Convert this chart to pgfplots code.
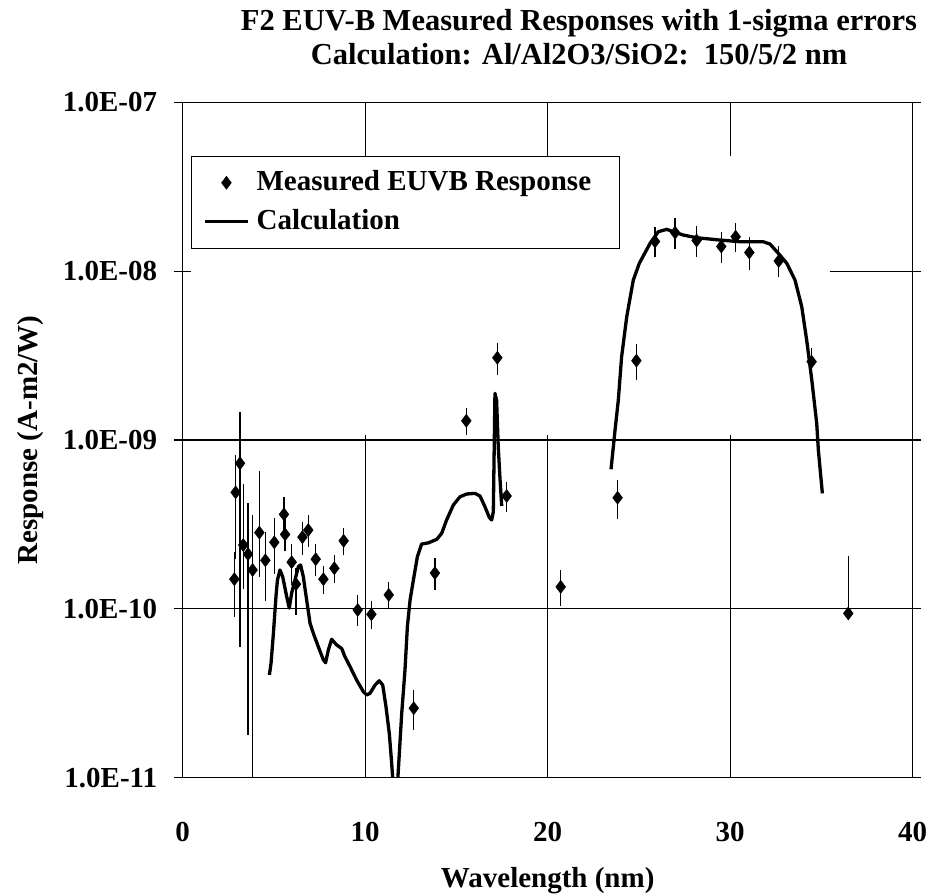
\documentclass[border=0pt]{standalone}
\usepackage{pgfplots}
\pgfplotsset{compat=1.18}
\usepackage{pgfplotstable}
\usepackage{fontspec}
\setmainfont{Liberation Serif}

\newcommand\chartfont{\fontsize{29}{34}\selectfont\bfseries}
\newcommand\titlefont{\fontsize{30.5}{36}\selectfont\bfseries}

% measured responses: wavelength (nm), response (A m^2/W), +/- 1 sigma
\pgfplotstableread{
x     y         ep        em
2.83  1.50e-10  0.55e-10  0.55e-10
2.90  4.90e-10  2.82e-10  2.82e-10
3.14  7.28e-10  6.65e-10  6.65e-10
3.32  2.39e-10  2.78e-10  1.00e-10
3.58  2.11e-10  1.92e-10  1.92e-10
3.83  1.70e-10  1.69e-10  1.62e-10
4.20  2.83e-10  3.37e-10  1.20e-10
4.53  1.94e-10  0.76e-10  0.76e-10
5.02  2.48e-10  0.78e-10  0.78e-10
5.55  3.63e-10  0.74e-10  0.74e-10
5.61  2.76e-10  0.45e-10  0.45e-10
5.97  1.89e-10  0.39e-10  0.39e-10
6.21  1.40e-10  0.26e-10  0.43e-10
6.56  2.66e-10  0.45e-10  0.45e-10
6.88  2.93e-10  0.46e-10  0.46e-10
7.29  1.97e-10  0.31e-10  0.31e-10
7.71  1.50e-10  0.20e-10  0.20e-10
8.31  1.74e-10  0.24e-10  0.24e-10
8.82  2.53e-10  0.33e-10  0.33e-10
9.59  0.985e-10 0.153e-10 0.153e-10
10.34 0.928e-10 0.126e-10 0.126e-10
11.29 1.21e-10  0.16e-10  0.16e-10
12.66 2.58e-11  0.55e-11  0.55e-11
13.82 1.63e-10  0.26e-10  0.26e-10
15.54 1.30e-9   0.17e-9   0.17e-9
17.24 3.07e-9   0.50e-9   0.50e-9
17.75 4.66e-10  0.68e-10  0.68e-10
20.71 1.35e-10  0.25e-10  0.25e-10
23.83 4.55e-10  0.96e-10  0.96e-10
24.86 2.95e-9   0.54e-9   0.54e-9
25.88 1.50e-8   0.22e-8   0.22e-8
26.98 1.69e-8   0.26e-8   0.26e-8
28.16 1.52e-8   0.24e-8   0.24e-8
29.51 1.40e-8   0.22e-8   0.22e-8
30.30 1.60e-8   0.23e-8   0.23e-8
31.05 1.29e-8   0.21e-8   0.21e-8
32.66 1.15e-8   0.18e-8   0.18e-8
34.46 2.91e-9   0.42e-9   0.42e-9
36.47 0.94e-10  1.02e-10  0
}\measured

% calculated response of the Al/Al2O3/SiO2 filter stack
\pgfplotstableread{
x     y
4.75  4.06e-11
4.84  4.76e-11
4.97  7.16e-11
5.11  1.18e-10
5.19  1.48e-10
5.33  1.70e-10
5.48  1.55e-10
5.70  1.18e-10
5.84  1.01e-10
5.97  1.24e-10
6.15  1.48e-10
6.34  1.78e-10
6.46  1.82e-10
6.61  1.55e-10
6.79  1.13e-10
6.98  8.2e-11
7.16  7.16e-11
7.43  5.97e-11
7.71  4.98e-11
7.83  4.80e-11
7.98  5.71e-11
8.16  6.60e-11
8.44  6.11e-11
8.71  5.83e-11
8.89  5.21e-11
9.17  4.55e-11
9.53  3.79e-11
9.90  3.23e-11
10.08 3.09e-11
10.26 3.16e-11
10.54 3.54e-11
10.77 3.75e-11
10.96 3.54e-11
11.14 2.63e-11
11.32 1.83e-11
11.45 1.22e-11
11.54 8.8e-12
11.76 8.8e-12
11.87 1.39e-11
12.00 2.40e-11
12.18 4.34e-11
12.31 7.84e-11
12.46 1.13e-10
12.64 1.48e-10
12.86 2.04e-10
13.09 2.42e-10
13.46 2.46e-10
13.92 2.58e-10
14.19 2.80e-10
14.46 3.36e-10
14.83 4.12e-10
15.19 4.61e-10
15.56 4.79e-10
16.02 4.83e-10
16.29 4.66e-10
16.56 4.03e-10
16.80 3.48e-10
16.93 3.36e-10
17.02 3.76e-10
17.11 1.89e-9
17.20 1.72e-9
17.29 9.13e-10
17.39 5.80e-10
17.48 4.07e-10
nan   nan
23.47 6.71e-10
23.69 1.146e-9
23.87 1.725e-9
24.05 3.11e-9
24.33 5.37e-9
24.69 8.86e-9
25.02 1.113e-8
25.61 1.462e-8
26.06 1.713e-8
26.52 1.770e-8
26.88 1.713e-8
27.43 1.637e-8
28.16 1.578e-8
29.44 1.529e-8
30.54 1.494e-8
31.81 1.494e-8
32.18 1.448e-8
32.64 1.275e-8
33.10 1.113e-8
33.55 8.86e-9
33.92 6.16e-9
34.19 3.91e-9
34.47 2.27e-9
34.74 1.256e-9
34.83 8.73e-10
35.05 4.83e-10
}\calc

\begin{document}
\begin{tikzpicture}[x=1pt,y=1pt]
\path[use as bounding box] (0,0) rectangle (926,894);
\begin{axis}[
  at={(182.7pt,116.3pt)}, anchor=south west,
  width=730pt, height=675.4pt, scale only axis,
  xmin=0, xmax=40, ymin=1e-11, ymax=1e-7, ymode=log,
  xtick={0,10,20,30,40}, xticklabels={0,10,20,30,40},
  ytick={1e-11,1e-10,1e-9,1e-8,1e-7},
  yticklabels={1.0E-11,1.0E-10,1.0E-09,1.0E-08,1.0E-07},
  yminorticks=false,
  x tick style={draw=none},
  y tick style={black, line width=1.2pt},
  major tick length=17.5pt, tick align=center,
  axis line style={line width=1.3pt},
  ticklabel style={font=\chartfont},
  xticklabel style={anchor=base, yshift=-55.3pt},
  yticklabel style={anchor=east, inner sep=0pt, xshift=-16.6pt},
  xlabel={Wavelength (nm)},
  xlabel style={font=\chartfont, at={(axis description cs:0.5,-0.16183)}, anchor=base},
  ylabel={Response (A-m2/W)},
  ylabel style={font=\chartfont, at={(axis description cs:-0.19822,0.5)}, anchor=base, rotate=0},
  legend image code/.code={\path (0pt,0pt);
    \draw[mark repeat=2,mark phase=2,#1] plot coordinates {(0pt,0pt) (21.5pt,0pt) (43pt,0pt)};},
  legend cell align=left,
  legend style={at={(rel axis cs:0.01096,0.92094)}, anchor=north west,
    draw=black, line width=1.2pt, font=\chartfont,
    inner xsep=12pt, inner ysep=7pt, row sep=0pt,
    nodes={text height=23pt, text depth=8pt, inner ysep=4pt, inner xsep=4pt}},
]
% grid lines
\draw[line width=1.2pt] (axis cs:0,1e-9) -- (axis cs:40,1e-9);
\draw[line width=1.2pt] (axis cs:0,1e-10) -- (axis cs:40,1e-10);
\draw[line width=1.2pt] (axis cs:35.47,1e-8) -- (axis cs:40,1e-8);
\foreach \g in {10,20,30} {
  \edef\temp{\noexpand\draw[line width=1.2pt] (axis cs:\g,1e-11) -- (axis cs:\g,1.07e-9);
    \noexpand\draw[line width=1.2pt] (axis cs:\g,4.83e-8) -- (axis cs:\g,1e-7);}
  \temp
}
\addplot[only marks, black, mark=diamond*, mark size=6.5pt, mark options={fill=black, line width=0.5pt},
  error bars/.cd, y dir=both, y explicit,
  error bar style={line width=1.3pt, black},
  error mark options={black, line width=1.3pt, mark size=4pt}]
  table[x=x, y=y, y error plus=ep, y error minus=em] {\measured};
\addplot[black, line width=3.3pt, line join=round, unbounded coords=jump]
  table[x=x, y=y] {\calc};
\legend{\hspace*{3pt}Measured EUVB Response\kern12pt, \hspace*{3pt}Calculation}
\end{axis}
\node[font=\titlefont, anchor=base] at (579,863) {F2 EUV-B Measured Responses with 1-sigma errors};
\node[font=\titlefont, anchor=base] at (579,829) {Calculation: Al/Al2O3/SiO2:\ \ 150/5/2 nm};
\end{tikzpicture}
\end{document}
